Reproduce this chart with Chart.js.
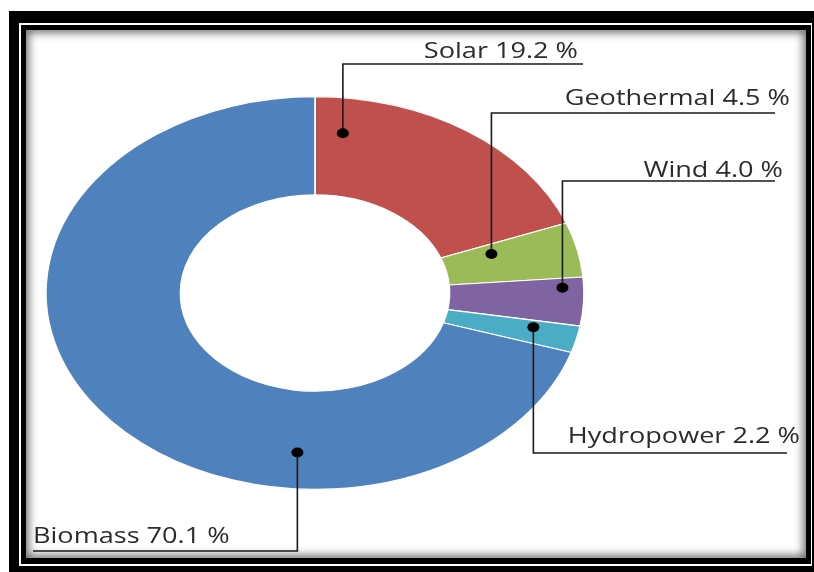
<!DOCTYPE html>
<html>
<head>
<meta charset="utf-8">
<title>Renewable energy share</title>
<script src="https://cdn.jsdelivr.net/npm/chart.js"></script>
<style>
  html, body { margin: 0; padding: 0; background: #fff; }
  body { width: 814px; height: 572px; position: relative; overflow: hidden; }
  .marco1 { position: absolute; left: 9px; top: 11px; width: 805px; height: 561px; background: #000; }
  .marco2 { position: absolute; left: 19px; top: 23px; width: 793px; height: 543px; background: #fff; }
  .marco3 { position: absolute; left: 21px; top: 25px; width: 790px; height: 539px; background: #000; }
  .panel  { position: absolute; left: 26px; top: 30px; width: 780px; height: 528px; background: #fff;
            box-shadow: inset 0 0 8px 3px rgba(0,0,0,0.55); }
  canvas { position: absolute; left: 0; top: 0; }
</style>
</head>
<body>
<div class="marco1"></div>
<div class="marco2"></div>
<div class="marco3"></div>
<div class="panel"></div>
<canvas id="grafica" width="814" height="572"></canvas>
<script>
// datos
const categorias = ['Solar', 'Geothermal', 'Wind', 'Hydropower', 'Biomass'];
const porcentajes = [19.2, 4.5, 4.0, 2.2, 70.1];
const colores = ['#C0504D', '#9BBB59', '#8064A2', '#4BACC6', '#4F81BD'];

// el anillo original esta estirado a lo ancho
const SX = 1.37;
const TS = 1.29;

// donde va cada rotulo (f = fraccion del angulo, rf = fraccion del radio)
const rotulos = [
  { f: 0.105, rf: 0.64, lineaY: 64,  finX: 583, textoX: 578, base: 58,  alinear: 'right' },
  { f: 0.25,  rf: 0.37, lineaY: 113, finX: 775, textoX: 790, base: 105, alinear: 'right' },
  { f: 0.21,  rf: 0.84, lineaY: 181, finX: 775, textoX: 783, base: 177, alinear: 'right' },
  { f: 0.30,  rf: 0.66, lineaY: 453, finX: 787, textoX: 800, base: 443, alinear: 'right' },
  { f: 0.305, rf: 0.63, lineaY: 551, finX: 33,  textoX: 33,  base: 543, alinear: 'left' }
];

const estirar = {
  id: 'estirar',
  beforeDatasetsDraw(chart) {
    const arc = chart.getDatasetMeta(0).data[0];
    const ctx = chart.ctx;
    ctx.save();
    ctx.translate(arc.x, arc.y);
    ctx.scale(SX, 1);
    ctx.translate(-arc.x, -arc.y);
  },
  afterDatasetsDraw(chart) { chart.ctx.restore(); }
};

const etiquetas = {
  id: 'etiquetas',
  afterDraw(chart) {
    const ctx = chart.ctx;
    const meta = chart.getDatasetMeta(0);
    meta.data.forEach((arc, i) => {
      const p = arc.getProps(['x', 'y', 'startAngle', 'endAngle', 'innerRadius', 'outerRadius'], true);
      const r = rotulos[i];
      const a = p.startAngle + r.f * (p.endAngle - p.startAngle);
      const rad = p.innerRadius + r.rf * (p.outerRadius - p.innerRadius);
      const x = p.x + SX * rad * Math.cos(a);
      const y = p.y + rad * Math.sin(a);

      ctx.save();
      ctx.strokeStyle = '#1a1a1a';
      ctx.lineWidth = 1.6;
      ctx.beginPath();
      ctx.moveTo(x, y);
      ctx.lineTo(x, r.lineaY);
      ctx.lineTo(r.finX, r.lineaY);
      ctx.stroke();
      ctx.fillStyle = '#000';
      ctx.beginPath();
      ctx.ellipse(x, y, 6, 5, 0, 0, Math.PI * 2);
      ctx.fill();

      ctx.translate(r.textoX, r.base);
      ctx.scale(TS, 1);
      ctx.font = '21px "Open Sans"';
      ctx.fillStyle = '#2b2b2b';
      ctx.textAlign = r.alinear;
      ctx.textBaseline = 'alphabetic';
      ctx.fillText(categorias[i] + ' ' + porcentajes[i].toFixed(1) + ' %', 0, 0);
      ctx.restore();
    });
  }
};

new Chart(document.getElementById('grafica'), {
  type: 'doughnut',
  data: {
    labels: categorias,
    datasets: [{
      data: porcentajes,
      backgroundColor: colores,
      borderColor: '#ffffff',
      borderWidth: 1.2
    }]
  },
  options: {
    responsive: false,
    animation: false,
    cutout: '50%',
    layout: { padding: { left: 118, right: 302, top: 96, bottom: 82 } },
    plugins: { legend: { display: false }, tooltip: { enabled: false } }
  },
  plugins: [estirar, etiquetas]
});
</script>
</body>
</html>
